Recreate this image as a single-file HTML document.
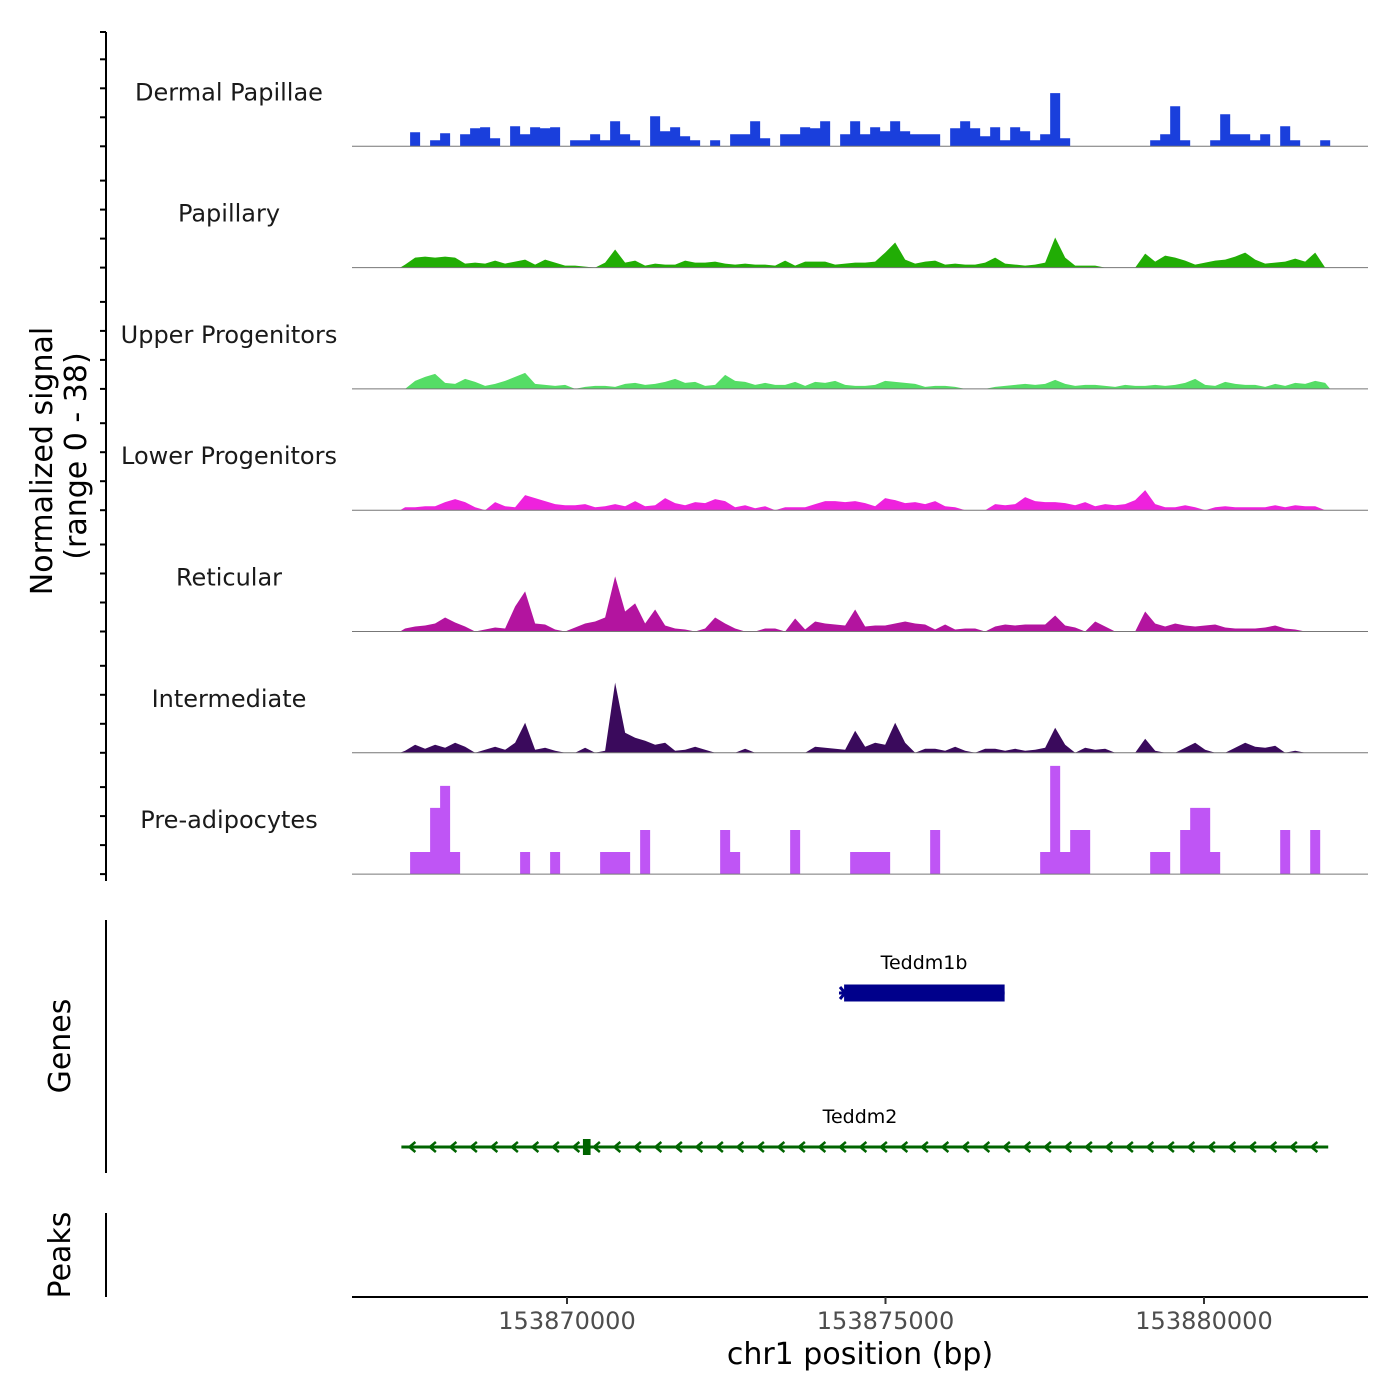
<!DOCTYPE html>
<html><head><meta charset="utf-8"><style>
html,body{margin:0;padding:0;background:#fff;}
svg{display:block;font-family:"DejaVu Sans","Liberation Sans",sans-serif;}
</style></head><body>
<svg id="chart" width="1400" height="1400" viewBox="0 0 1400 1400" xmlns="http://www.w3.org/2000/svg">
<rect width="1400" height="1400" fill="#fff"/>
<g id="tracks"></g>
<g id="yaxis"></g>
<text transform="translate(52,461) rotate(-90)" text-anchor="middle" font-size="30" fill="#000">Normalized signal</text>
<text transform="translate(86,456) rotate(-90)" text-anchor="middle" font-size="30" fill="#000">(range 0 - 38)</text>
<g>
<line x1="106" y1="920" x2="106" y2="1173" stroke="#000" stroke-width="2"/>
<text transform="translate(70,1046) rotate(-90)" text-anchor="middle" font-size="30">Genes</text>
<g id="genes"></g>
</g>
<g>
<line x1="106" y1="1213" x2="106" y2="1297" stroke="#000" stroke-width="2"/>
<text transform="translate(70,1255) rotate(-90)" text-anchor="middle" font-size="30">Peaks</text>
</g>
<g id="xaxis"></g>
<text x="860" y="1364" text-anchor="middle" font-size="30">chr1 position (bp)</text>
</svg>
<script>
const trackNames = ["Dermal Papillae","Papillary","Upper Progenitors","Lower Progenitors","Reticular","Intermediate","Pre-adipocytes"];
const trackColors = ["#1a3fdc","#21ad05","#55dd66","#ee22dd","#b3149f","#3a0a5c","#bf55f5"];
const binStart = 153867380;
const binSize = 157;
const xTicks = [153870000,153875000,153880000];
const yMax = 121;
const sDermal = [0,14,0,6,13,0,12,18,19,8,0,20,12,19,18,19,0,6,6,12,6,25,12,6,0,30,15,19,10,6,0,6,0,12,12,25,8,0,12,12,19,18,25,0,12,25,12,19,15,25,15,12,12,12,0,18,25,18,10,19,6,19,15,6,12,53,8,0,0,0,0,0,0,0,0,6,12,40,6,0,0,6,32,12,12,6,12,0,20,6,0,0,6,0];
const sPapillary = [3,10,11,10,11,10,4,5,4,7,4,6,8,3,8,5,2,2,1,0,5,18,5,7,2,4,3,3,7,5,5,6,4,3,4,3,3,2,7,2,6,6,6,3,4,5,5,6,15,25,8,4,6,7,3,4,3,3,5,10,4,3,2,3,5,30,10,2,2,2,0,0,0,0,14,6,12,10,7,3,5,7,8,11,15,8,4,5,6,9,6,15,0];
const sUpper = [0,8,12,15,6,5,10,7,3,5,8,12,16,5,4,3,4,0,2,3,3,2,5,6,4,5,7,10,6,7,3,4,14,8,7,4,6,4,4,7,3,7,6,8,4,3,3,4,8,7,6,5,2,3,3,2,0,0,0,2,3,4,5,4,5,9,5,3,4,4,3,2,4,3,3,4,3,4,6,10,4,3,7,5,4,4,2,5,3,6,5,8,6];
const sLower = [3,3,4,4,8,11,8,3,0,8,4,3,15,12,9,6,5,5,6,3,4,6,4,9,4,5,12,7,5,8,7,11,9,3,5,2,4,0,3,3,3,6,9,9,8,9,7,4,12,10,7,8,6,9,4,3,0,0,0,6,5,6,13,9,8,8,7,5,8,4,6,5,6,10,20,6,3,3,5,3,0,3,4,3,3,3,3,5,3,5,4,4,0];
const sReticular = [3,5,6,8,14,9,5,0,2,4,3,25,40,8,7,2,0,4,8,10,14,55,20,28,8,22,6,3,2,0,3,14,8,3,0,0,3,3,0,13,2,10,8,7,6,22,5,6,6,8,10,8,7,2,7,2,3,3,0,5,7,6,7,7,7,16,6,4,0,10,5,0,0,0,20,8,5,8,6,5,6,7,4,3,3,3,4,6,3,2,0,0,0];
const sIntermediate = [2,8,4,8,5,10,6,0,3,6,3,10,30,3,5,2,0,0,5,0,2,70,20,15,12,8,10,2,3,6,3,0,0,0,4,0,0,0,0,0,0,6,5,4,3,22,6,10,8,30,10,0,4,4,2,6,2,0,4,4,2,4,2,3,5,25,8,0,5,3,4,0,0,0,14,2,0,0,5,10,3,0,0,5,10,6,5,7,0,2,0,0,0];
const sPreadipo = [0,22,22,66,88,22,0,0,0,0,0,0,22,0,0,22,0,0,0,0,22,22,22,0,44,0,0,0,0,0,0,0,44,22,0,0,0,0,0,44,0,0,0,0,0,22,22,22,22,0,0,0,0,44,0,0,0,0,0,0,0,0,0,0,22,108,22,44,44,0,0,0,0,0,0,22,22,0,44,66,66,22,0,0,0,0,0,0,44,0,0,44,0];
const series = [sDermal,sPapillary,sUpper,sLower,sReticular,sIntermediate,sPreadipo];
const stepMode = [true,false,false,false,false,false,true];
const geneNames = ["Teddm1b","Teddm2"];
const geneStart = [153874270,153867400];
const geneEnd = [153876870,153881950];
const geneCdsStart = [153874350,153870250];
const geneCdsEnd = [153876870,153870370];

const NS="http://www.w3.org/2000/svg";
const xLeft=352, xRight=1368;
function xs(bp){return 567+(bp-153870000)*(318.5/5000);}
const top0=25, trackH=121.3;
function baseY(i){return top0+trackH*(i+1);}
function ys(v,i){return baseY(i)-v/yMax*trackH;}
function mk(tag,attrs,parent){const e=document.createElementNS(NS,tag);for(const k in attrs)e.setAttribute(k,attrs[k]);parent.appendChild(e);return e;}

const tg=document.getElementById('tracks');
series.forEach((vals,i)=>{
  const g=mk('g',{},tg);
  
  
  const by=baseY(i);
  let d='M'+xs(binStart)+','+by;
  vals.forEach((v,j)=>{
    const a=xs(binStart+j*binSize), b=xs(binStart+(j+1)*binSize);
    if(stepMode[i]){d+=' L'+a+','+ys(v,i)+' L'+b+','+ys(v,i);}
    else{d+=' L'+((a+b)/2)+','+ys(v,i);}
  });
  d+=' L'+xs(binStart+vals.length*binSize)+','+by+' Z';
  const p=mk('path',{d:d,fill:trackColors[i],stroke:'none'},g);
  
  
  const l=mk('line',{x1:xLeft,x2:xRight,y1:by,y2:by,stroke:'#777','stroke-width':1},g);
  
  
  const t=mk('text',{x:229,y:by-46,'text-anchor':'middle','font-size':24,fill:'#1a1a1a'},g);
  t.textContent=trackNames[i];
  
  
});

const ya=document.getElementById('yaxis');
mk('line',{x1:106,x2:106,y1:32,y2:881,stroke:'#000','stroke-width':2},ya);
for(let i=0;i<7;i++){for(let k=0;k<4;k++){const y=baseY(i)-k*29;mk('line',{x1:100,x2:106,y1:y,y2:y,stroke:'#000','stroke-width':2},ya);}}
mk('line',{x1:100,x2:106,y1:32,y2:32,stroke:'#000','stroke-width':2},ya);

const gg=document.getElementById('genes');
const geneY=[993,1147], geneCol=["#00008b","#006400"];
const labelX=[924,860];
geneNames.forEach((n,i)=>{
  const g=mk('g',{},gg);
  
  
  const y=geneY[i], x1=xs(geneStart[i]), x2=xs(geneEnd[i]);
  mk('line',{x1:x1,x2:x2,y1:y,y2:y,stroke:geneCol[i],'stroke-width':3},g);
  if(i===1){for(let x=x1+8;x<x2-10;x+=20.5){mk('path',{d:'M'+(x+6)+','+(y-5)+' L'+x+','+y+' L'+(x+6)+','+(y+5),fill:'none',stroke:geneCol[i],'stroke-width':2.5},g);}}
  else{mk('path',{d:'M'+(x1+1)+','+(y-6)+' L'+(x1+6)+','+y+' L'+(x1+1)+','+(y+6),fill:'none',stroke:geneCol[i],'stroke-width':3},g);}
  const c1=xs(geneCdsStart[i]), c2=xs(geneCdsEnd[i]);
  const hh=i===0?8.5:8;
  mk('rect',{x:c1,y:y-hh,width:c2-c1,height:hh*2,fill:geneCol[i]},g);
  const t=mk('text',{x:labelX[i],y:y-24,'text-anchor':'middle','font-size':19,fill:'#000'},g);
  t.textContent=n;
  
  
});

const xa=document.getElementById('xaxis');
mk('line',{x1:xLeft,x2:xRight,y1:1297,y2:1297,stroke:'#000','stroke-width':2},xa);
xTicks.forEach(v=>{
  const x=xs(v);
  mk('line',{x1:x,x2:x,y1:1297,y2:1304,stroke:'#333','stroke-width':2},xa);
  const t=mk('text',{x:x,y:1329,'text-anchor':'middle','font-size':24,fill:'#4d4d4d'},xa);
  t.textContent=String(v);
  
  
});
</script>
</body></html>
